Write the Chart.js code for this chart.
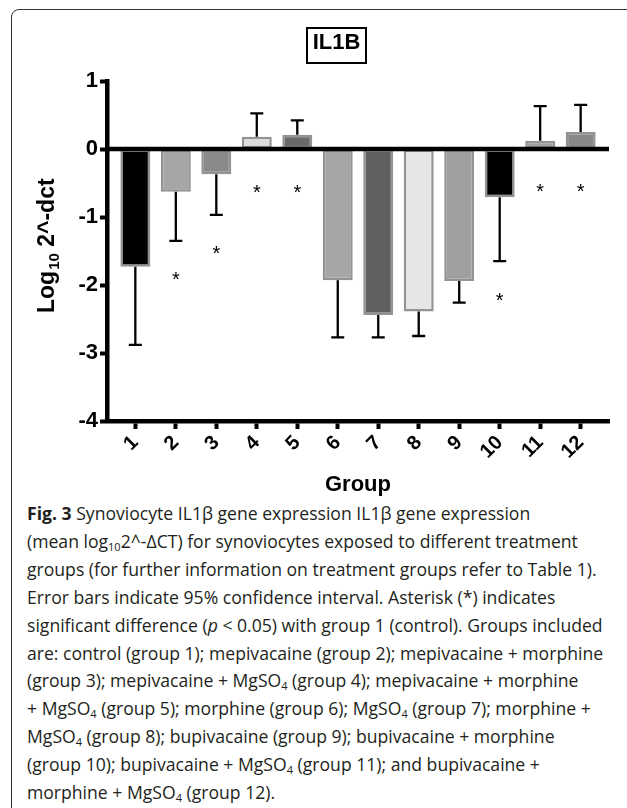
<!DOCTYPE html>
<html>
<head>
<meta charset="utf-8">
<script src="https://cdn.jsdelivr.net/npm/chart.js@4.4.1/dist/chart.umd.min.js"></script>
<style>
  html, body { margin: 0; padding: 0; background: #fff; }
  body { width: 627px; height: 808px; position: relative; overflow: hidden; }
  #frame {
    position: absolute; left: 11px; top: 9px; width: 660px; height: 830px;
    border: 1.5px solid #333; border-radius: 8px;
  }
  #chart { position: absolute; left: 0; top: 0; }
  #geneBox {
    position: absolute; left: 306px; top: 27px; width: 57px; height: 33px;
    border: 2px solid #000; text-align: center; line-height: 33px;
    font: bold 22px "Liberation Sans", Arial, sans-serif; color: #000;
  }
  #caption {
    position: absolute; left: 27px; top: 500px; width: 600px;
    font-family: "Open Sans", "Noto Sans", sans-serif; font-size: 17.6px;
    line-height: 27.9px; color: #231f20; white-space: nowrap;
  }
  #caption sub { font-size: 11px; line-height: 0; vertical-align: -3px; }
</style>
</head>
<body>
<div id="frame"></div>
<canvas id="chart" width="627" height="500"></canvas>
<div id="geneBox">IL1B</div>
<div id="caption">
<b>Fig. 3</b> Synoviocyte IL1β gene expression IL1β gene expression<br>
(mean log<sub>10</sub>2^-ΔCT) for synoviocytes exposed to different treatment<br>
groups (for further information on treatment groups refer to Table 1).<br>
Error bars indicate 95% confidence interval. Asterisk (*) indicates<br>
significant difference (<i>p</i> &lt; 0.05) with group 1 (control). Groups included<br>
are: control (group 1); mepivacaine (group 2); mepivacaine + morphine<br>
(group 3); mepivacaine + MgSO<sub>4</sub> (group 4); mepivacaine + morphine<br>
+ MgSO<sub>4</sub> (group 5); morphine (group 6); MgSO<sub>4</sub> (group 7); morphine +<br>
MgSO<sub>4</sub> (group 8); bupivacaine (group 9); bupivacaine + morphine<br>
(group 10); bupivacaine + MgSO<sub>4</sub> (group 11); and bupivacaine +<br>
morphine + MgSO<sub>4</sub> (group 12).
</div>
<script>
(function() {
  'use strict';

  const groups = ['1', '2', '3', '4', '5', '6', '7', '8', '9', '10', '11', '12'];
  const means = [-1.73, -0.63, -0.37, 0.18, 0.21, -1.93, -2.44, -2.39, -1.94, -0.71, 0.12, 0.25];
  // far end of the one-sided 95% CI bar
  const ciEnds = [-2.88, -1.35, -0.97, 0.525, 0.42, -2.77, -2.77, -2.75, -2.26, -1.65, 0.63, 0.65];
  // asterisk height (significant vs group 1)
  const starAt = [null, -1.85, -1.47, -0.57, -0.57, null, null, null, null, -2.16, -0.55, -0.55];
  const barFills = ['#000000', '#a6a6a6', '#8a8a8a', '#dcdcdc', '#6a6a6a', '#a6a6a6',
                    '#606060', '#e6e6e6', '#a0a0a0', '#000000', '#a0a0a0', '#888888'];
  const yTicks = [1, 0, -1, -2, -3, -4];

  const FONT = "'Liberation Sans', Arial, sans-serif";

  const overlay = {
    id: 'overlay',
    afterDatasetsDraw(chart) {
      const ctx = chart.ctx;
      const x = chart.scales.x;
      const y = chart.scales.y;
      const area = chart.chartArea;

      ctx.save();
      // zero line
      const y0 = y.getPixelForValue(0);
      ctx.strokeStyle = '#000';
      ctx.lineWidth = 4.5;
      ctx.beginPath();
      ctx.moveTo(area.left, y0);
      ctx.lineTo(area.right, y0);
      ctx.stroke();

      // error bars
      ctx.lineWidth = 2.3;
      means.forEach((m, i) => {
        const px = x.getPixelForValue(+groups[i]);
        const pa = y.getPixelForValue(m);
        const pb = y.getPixelForValue(ciEnds[i]);
        ctx.beginPath();
        ctx.moveTo(px, pa);
        ctx.lineTo(px, pb);
        ctx.moveTo(px - 6.5, pb);
        ctx.lineTo(px + 6.5, pb);
        ctx.stroke();
      });

      // asterisks
      ctx.fillStyle = '#000';
      ctx.font = '20px ' + FONT;
      ctx.textAlign = 'center';
      ctx.textBaseline = 'alphabetic';
      starAt.forEach((s, i) => {
        if (s === null) return;
        const px = x.getPixelForValue(+groups[i]);
        ctx.fillText('*', px, y.getPixelForValue(s) + 11.5);
      });

      // y axis title with subscript
      ctx.translate(54, 313);
      ctx.rotate(-Math.PI / 2);
      ctx.textAlign = 'left';
      let cx = 0;
      ctx.font = 'bold 23px ' + FONT;
      ctx.fillText('Log', cx, 0);
      cx += ctx.measureText('Log').width + 1;
      ctx.font = 'bold 15px ' + FONT;
      ctx.fillText('10', cx, 5);
      cx += ctx.measureText('10').width;
      ctx.font = 'bold 23px ' + FONT;
      ctx.fillText(' 2^-dct', cx, 0);
      ctx.restore();
    }
  };

  new Chart(document.getElementById('chart'), {
    type: 'bar',
    data: {
      labels: groups,
      datasets: [{
        data: means,
        backgroundColor: barFills,
        borderColor: '#939393',
        borderWidth: 2.5,
        borderSkipped: false,
        barPercentage: 0.74,
        categoryPercentage: 1
      }]
    },
    options: {
      responsive: false,
      animation: false,
      layout: { padding: { left: 0, top: 81, right: 18, bottom: 0 } },
      plugins: { legend: { display: false }, tooltip: { enabled: false } },
      scales: {
        x: {
          type: 'linear',
          offset: false,
          min: 0.3,
          max: 12.7,
          afterBuildTicks: scale => { scale.ticks = groups.map(g => ({ value: +g })); },
          afterFit: scale => { scale.height = 79; },
          grid: { drawOnChartArea: false, offset: false, tickLength: 8, tickWidth: 4, color: '#000' },
          border: { width: 4.5, color: '#000' },
          ticks: {
            minRotation: 45,
            maxRotation: 45,
            padding: 2,
            color: '#000',
            font: { family: FONT, size: 20, weight: 'bold' },
            callback: v => groups[v - 1]
          },
          title: {
            display: true,
            text: 'Group',
            color: '#000',
            padding: { top: 0, bottom: 2 },
            font: { family: FONT, size: 22, weight: 'bold' }
          }
        },
        y: {
          min: -4,
          max: 1,
          afterBuildTicks: scale => { scale.ticks = yTicks.map(v => ({ value: v })); },
          afterFit: scale => { scale.width = 107; },
          grid: { drawOnChartArea: false, tickLength: 7, tickWidth: 4, color: '#000' },
          border: { width: 4.5, color: '#000' },
          ticks: {
            padding: 2,
            color: '#000',
            font: { family: FONT, size: 22, weight: 'bold' }
          }
        }
      }
    },
    plugins: [overlay]
  });
})();
</script>
</body>
</html>
